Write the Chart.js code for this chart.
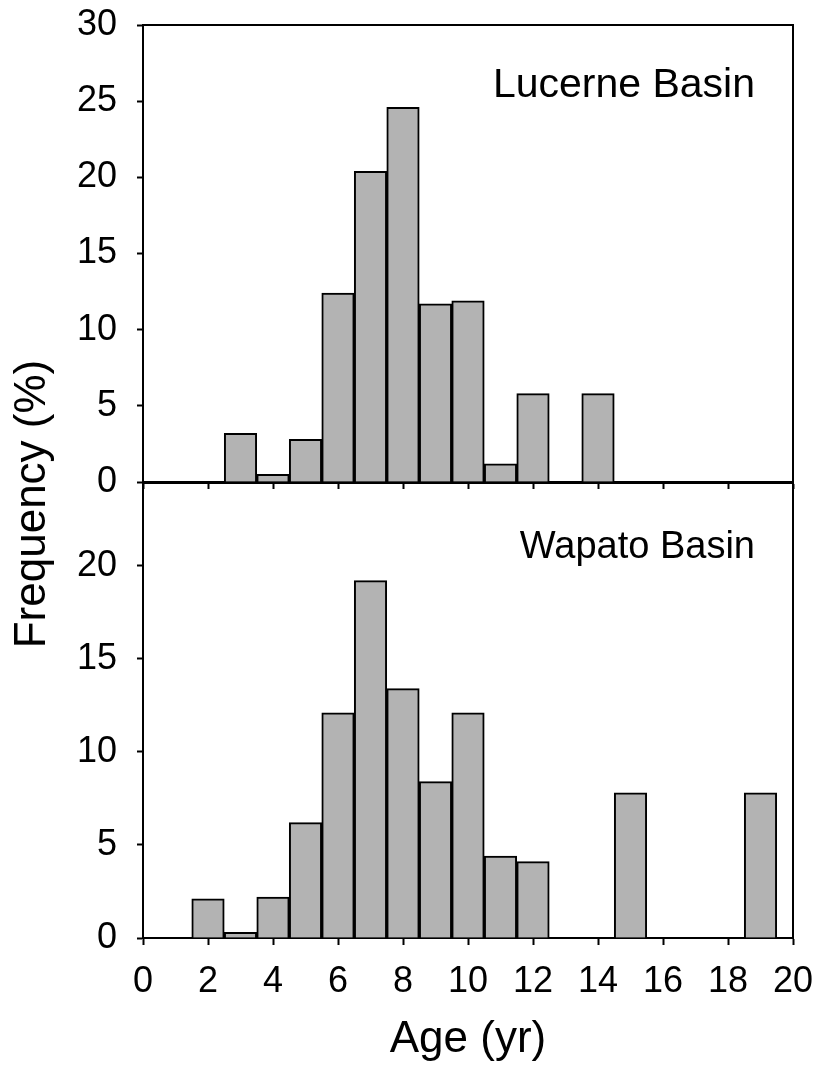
<!DOCTYPE html>
<html>
<head>
<meta charset="utf-8">
<script src="https://cdn.jsdelivr.net/npm/chart.js@4.4.0/dist/chart.umd.min.js"></script>
<style>
  body { margin: 0; background: #fff; }
  #wrap { position: relative; width: 820px; height: 1072px; font-family: 'Liberation Sans', Arial, sans-serif; }
  canvas { position: absolute; left: 0; top: 0; }
  .lbl { position: absolute; font-size: 41px; line-height: 41px; color: #000; white-space: nowrap; }
</style>
</head>
<body>
<div id="wrap">
  <canvas id="topChart" width="820" height="1072"></canvas>
  <canvas id="botChart" width="820" height="1072"></canvas>
  <div class="lbl" style="right:65px; top:63px; text-align:right">Lucerne Basin</div>
  <div class="lbl" style="right:65px; top:526px; font-size:38px; line-height:38px; text-align:right">Wapato Basin</div>
  <div class="lbl" style="left:-170px; top:482px; width:400px; height:44px; font-size:44px; line-height:44px; text-align:center; transform:rotate(-90deg)">Frequency (%)</div>
</div>
<script>
// age classes (yr) and frequency (%) for each basin
const lucerneAges = [3, 4, 5, 6, 7, 8, 9, 10, 11, 12, 14];
const lucerneFreq = [3.2, 0.5, 2.8, 12.4, 20.4, 24.6, 11.7, 11.9, 1.2, 5.8, 5.8];

const wapatoAges = [2, 3, 4, 5, 6, 7, 8, 9, 10, 11, 12, 15, 19];
const wapatoFreq = [2.1, 0.3, 2.2, 6.2, 12.1, 19.2, 13.4, 8.4, 12.1, 4.4, 4.1, 7.8, 7.8];

// tick labels
const ageTicks = [0, 2, 4, 6, 8, 10, 12, 14, 16, 18, 20];
const topFreqTicks = [0, 5, 10, 15, 20, 25, 30];
const botFreqTicks = [0, 5, 10, 15, 20];

const fontFam = "'Liberation Sans', Arial, sans-serif";
const barGray = '#b3b3b3';

// draws the remaining sides of the panel box
const framePlugin = {
    id: 'frame',
    afterDraw(chart, args, opts) {
        const { ctx, chartArea } = chart;
        const sides = opts.sides || [];
        ctx.save();
        ctx.strokeStyle = '#000';
        ctx.lineWidth = 2;
        ctx.beginPath();
        if (sides.includes('top')) {
            ctx.moveTo(chartArea.left, chartArea.top);
            ctx.lineTo(chartArea.right + 1, chartArea.top);
        }
        if (sides.includes('right')) {
            ctx.moveTo(chartArea.right, chartArea.top);
            ctx.lineTo(chartArea.right, chartArea.bottom);
        }
        ctx.stroke();
        ctx.restore();
    }
};

function toPoints(xs, ys) {
    return xs.map((x, i) => ({ x: x, y: ys[i] }));
}

function useTicks(arr) {
    return function (scale) {
        scale.ticks = arr.map(v => ({ value: v }));
    };
}

// fixed box sizes so both panels line up
function fixWidth(w) {
    return function (s) {
        s.width = w;
        s.paddingTop = 0;
        s.paddingBottom = 0;
    };
}
function fixHeight(h) {
    return function (s) {
        s.height = h;
        s.paddingLeft = 0;
        s.paddingRight = 0;
    };
}

const tickGrid = {
    drawOnChartArea: false,
    offset: false,
    tickLength: 7,
    tickWidth: 2,
    tickColor: '#000'
};

function barSet(xs, ys) {
    return {
        data: toPoints(xs, ys),
        backgroundColor: barGray,
        borderColor: '#000',
        borderWidth: 2,
        barPercentage: 1,
        categoryPercentage: 1
    };
}

const topChart = new Chart(document.getElementById('topChart'), {
    type: 'bar',
    data: { datasets: [barSet(lucerneAges, lucerneFreq)] },
    options: {
        responsive: false,
        animation: false,
        layout: { padding: { left: 0, right: 27, top: 25, bottom: 1072 - 482 - 18 } },
        plugins: {
            legend: { display: false },
            tooltip: { enabled: false },
            frame: { sides: ['top', 'right'] }
        },
        scales: {
            x: {
                type: 'linear', min: 0, max: 20, offset: false, z: 1,
                afterBuildTicks: useTicks(ageTicks),
                afterFit: fixHeight(18),
                ticks: { display: false },
                grid: tickGrid,
                border: { color: '#000', width: 3 }
            },
            y: {
                min: 0, max: 30, z: 1,
                afterBuildTicks: useTicks(topFreqTicks),
                afterFit: fixWidth(143),
                ticks: { color: '#000', padding: 20, font: { family: fontFam, size: 36 } },
                grid: Object.assign({}, tickGrid, { tickLength: 6 }),
                border: { color: '#000', width: 2 }
            }
        }
    },
    plugins: [framePlugin]
});

const botChart = new Chart(document.getElementById('botChart'), {
    type: 'bar',
    data: { datasets: [barSet(wapatoAges, wapatoFreq)] },
    options: {
        responsive: false,
        animation: false,
        layout: { padding: { left: 0, right: 27, top: 482, bottom: 0 } },
        plugins: {
            legend: { display: false },
            tooltip: { enabled: false },
            frame: { sides: ['right'] }
        },
        scales: {
            x: {
                type: 'linear', min: 0, max: 20, offset: false, z: 1,
                afterBuildTicks: useTicks(ageTicks),
                afterFit: fixHeight(1072 - 938),
                ticks: { color: '#000', padding: 15, maxRotation: 0, font: { family: fontFam, size: 36 } },
                grid: tickGrid,
                border: { color: '#000', width: 2 },
                title: {
                    display: true, text: 'Age (yr)', color: '#000',
                    font: { family: fontFam, size: 44 },
                    padding: { top: 0, bottom: 6 }
                }
            },
            y: {
                min: 0, max: 24.5, z: 1,
                afterBuildTicks: useTicks(botFreqTicks),
                afterFit: fixWidth(143),
                ticks: { color: '#000', padding: 20, font: { family: fontFam, size: 36 } },
                grid: Object.assign({}, tickGrid, { tickLength: 6 }),
                border: { color: '#000', width: 2 }
            }
        }
    },
    plugins: [framePlugin]
});
</script>
</body>
</html>
